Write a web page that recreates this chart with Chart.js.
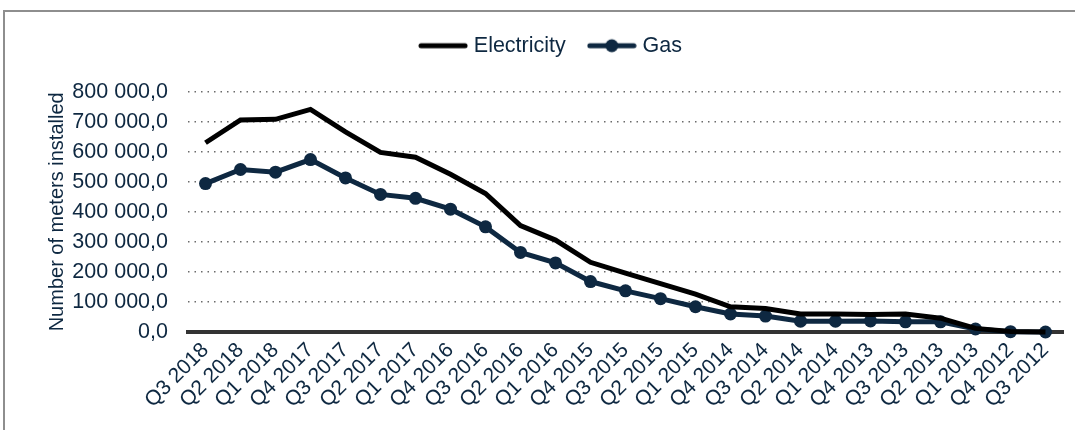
<!DOCTYPE html>
<html>
<head>
<meta charset="utf-8">
<script src="https://cdn.jsdelivr.net/npm/chart.js@4.4.1/dist/chart.umd.min.js"></script>
<style>
  html, body { margin: 0; padding: 0; background: #fff; overflow: hidden; }
  #frame { position: absolute; left: 3px; top: 10px; width: 1200px; height: 500px; border: 2px solid #8e8e8e; box-sizing: border-box; }
  #wrap { position: absolute; left: 0; top: 0; width: 1075px; height: 430px; }
</style>
</head>
<body>
<div id="frame"></div>
<div id="wrap"><canvas id="metersChart" width="1075" height="430"></canvas></div>
<script>
// newest quarter first, as in the source table
var quarters = [
    "Q3 2018", "Q2 2018", "Q1 2018", "Q4 2017", "Q3 2017", "Q2 2017", "Q1 2017",
    "Q4 2016", "Q3 2016", "Q2 2016", "Q1 2016", "Q4 2015", "Q3 2015", "Q2 2015",
    "Q1 2015", "Q4 2014", "Q3 2014", "Q2 2014", "Q1 2014", "Q4 2013", "Q3 2013",
    "Q2 2013", "Q1 2013", "Q4 2012", "Q3 2012"
];

var electricity = [
    630000, 706000, 708000, 741000, 666000, 598000, 582000,
    525000, 461000, 354000, 306000, 232000, 196000, 161000,
    126000, 84000, 78000, 60000, 60000, 58000, 60000,
    46000, 12000, 2000, 0
];

var gas = [
    494000, 541000, 532000, 574000, 513000, 458000, 445000,
    409000, 350000, 265000, 230000, 168000, 137000, 111000,
    84000, 60000, 53000, 36000, 36000, 37000, 34000,
    34000, 10000, 1000, 0
];

var yTicks = [0, 100000, 200000, 300000, 400000, 500000, 600000, 700000, 800000];

var textColor = "#0E2841";
var fontFamily = "'Liberation Sans', Arial, sans-serif";

function formatValue(v) {
    var s = Math.round(v).toString().replace(/\B(?=(\d{3})+(?!\d))/g, " ");
    return s + ",0";
}

function legendIcon(color, withDot) {
    var c = document.createElement("canvas");
    c.width = 50;
    c.height = 16;
    var g = c.getContext("2d");
    g.strokeStyle = color;
    g.lineWidth = 5;
    g.lineCap = "round";
    g.beginPath();
    g.moveTo(3, 8);
    g.lineTo(47, 8);
    g.stroke();
    if (withDot) {
        g.fillStyle = color;
        g.beginPath();
        g.arc(25, 8, 6.5, 0, Math.PI * 2);
        g.fill();
    }
    return c;
}

var ctx = document.getElementById("metersChart").getContext("2d");

new Chart(ctx, {
    type: "line",
    data: {
        labels: quarters,
        datasets: [
            {
                label: "Electricity",
                data: electricity,
                borderColor: "#000000",
                backgroundColor: "#000000",
                borderWidth: 5,
                pointRadius: 0,
                tension: 0,
                clip: false,
            },
            {
                label: "Gas",
                data: gas,
                borderColor: "#0E2841",
                backgroundColor: "#0E2841",
                borderWidth: 5,
                pointRadius: 6.5,
                pointBorderWidth: 0,
                tension: 0,
                clip: false,
            },
        ],
    },
    options: {
        responsive: false,
        animation: false,
        layout: {
            padding: { top: 9, right: 12, bottom: 4, left: 42 },
        },
        plugins: {
            tooltip: { enabled: false },
            // empty subtitle just keeps a gap between legend and plot
            subtitle: {
                display: true,
                text: "",
                weight: 500,
                font: { size: 1 },
                padding: { top: 24, bottom: 0 },
            },
            legend: {
                position: "top",
                labels: {
                    usePointStyle: true,
                    pointStyleWidth: 40,
                    padding: 26,
                    color: textColor,
                    font: { family: fontFamily, size: 21.5 },
                    generateLabels: function () {
                        return [
                            { text: "Electricity", pointStyle: legendIcon("#000000", false), fontColor: textColor, lineWidth: 0, datasetIndex: 0 },
                            { text: "Gas", pointStyle: legendIcon("#0E2841", true), fontColor: textColor, lineWidth: 0, datasetIndex: 1 },
                        ];
                    },
                },
            },
        },
        scales: {
            x: {
                offset: true,
                afterFit: function (axis) {
                    axis.height = 94;
                },
                grid: { display: false },
                border: { display: true, color: "#333333", width: 4 },
                ticks: {
                    autoSkip: false,
                    minRotation: 45,
                    maxRotation: 45,
                    padding: -2,
                    color: textColor,
                    font: { family: fontFamily, size: 21 },
                },
            },
            y: {
                min: 0,
                max: 800000,
                afterBuildTicks: function (axis) {
                    axis.ticks = yTicks.map(function (v) {
                        return { value: v };
                    });
                },
                afterFit: function (axis) {
                    axis.width = 146;
                },
                grid: {
                    drawTicks: false,
                    lineWidth: 1.5,
                    color: function (c) {
                        return c.tick && c.tick.value === 0 ? "rgba(0,0,0,0)" : "#6b6b6b";
                    },
                },
                border: { display: false, dash: [1.5, 5] },
                ticks: {
                    padding: 20,
                    color: textColor,
                    font: { family: fontFamily, size: 21.5 },
                    callback: function (v) {
                        return formatValue(v);
                    },
                },
                title: {
                    display: true,
                    text: "Number of meters installed",
                    color: textColor,
                    font: { family: fontFamily, size: 20 },
                    padding: { top: 3, bottom: 0 },
                },
            },
        },
    },
});
</script>
</body>
</html>
